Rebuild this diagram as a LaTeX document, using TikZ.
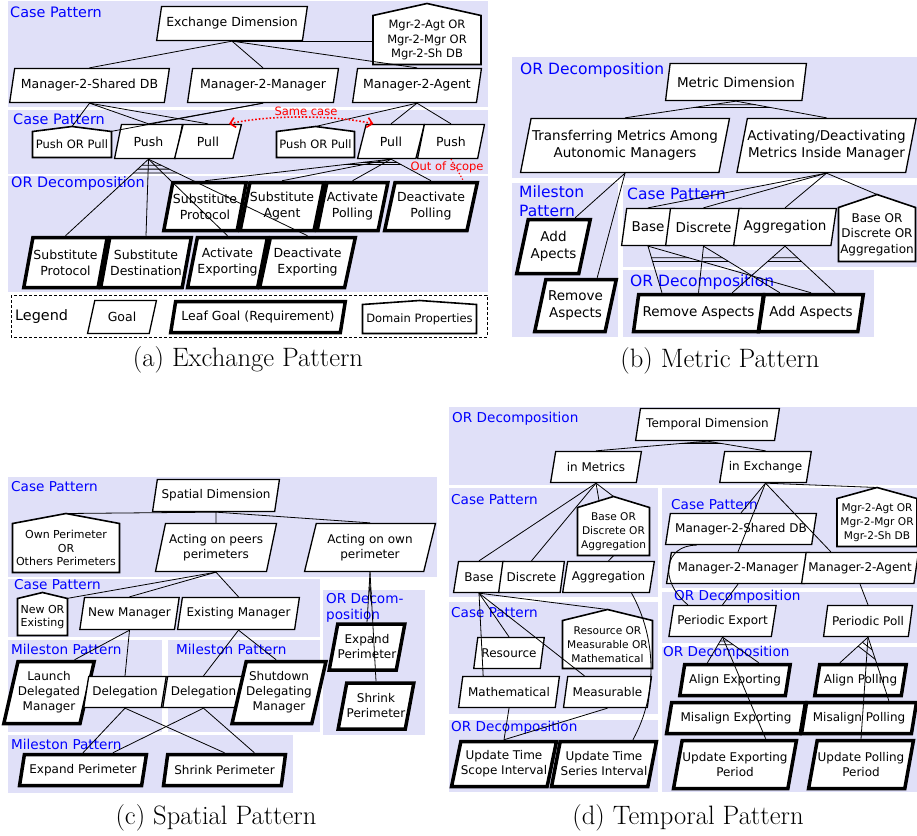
\documentclass[tikz,border=0pt]{standalone}
\usepackage{fontspec}
\newfontfamily\dejavu{DejaVu Sans}
\usepackage{tikz}
\usetikzlibrary{shapes.geometric}
\usetikzlibrary{arrows.meta}
\usetikzlibrary{calc}

\definecolor{lav}{RGB}{224,224,248}

\tikzset{
  gfont/.style={font=\dejavu\fontsize{12.5}{16}\selectfont},
  dfont/.style={font=\dejavu\fontsize{11.5}{14.5}\selectfont},
  pfont/.style={font=\dejavu\fontsize{14.4}{19}\selectfont},
  goal/.style={trapezium, trapezium left angle=72, trapezium right angle=108,
    trapezium stretches=true, draw, fill=white, line width=1.3pt,
    inner xsep=0pt, inner ysep=1pt, align=center, gfont},
  leaf/.style={goal, line width=3.5pt},
  domline/.style={fill=white, draw, line width=1.6pt},
  domtext/.style={inner sep=0pt, align=center, dfont},
  panel/.style={fill=lav},
  pat/.style={anchor=west, inner sep=0pt, text=blue, align=left, pfont},
  link/.style={line width=0.8pt},
  caption/.style={font=\fontsize{26.6}{31}\selectfont},
  note/.style={text=red, font=\dejavu\fontsize{11.5}{14}\selectfont},
  samecase/.style={{Straight Barb[length=5pt,width=10pt]}-{Straight Barb[length=5pt,width=10pt]},
    red, dotted, line width=1.6pt},
}

% name, x, y, width, height, roof, text
\newcommand{\domprop}[7]{%
  \filldraw[domline] (#2-#4/2,#3+#5/2) -- (#2+#4/2,#3+#5/2) -- (#2+#4/2,#3-#5/2+#6)
    -- (#2,#3-#5/2) -- (#2-#4/2,#3-#5/2+#6) -- cycle;
  \coordinate (#1-apex) at (#2,#3-#5/2);
  \node[domtext, minimum width=#4, minimum height=#5-#6] (#1) at (#2,#3+#6/2) {#7};}

\begin{document}
\begin{tikzpicture}[x=1pt, y=-1pt]
  \useasboundingbox (0,0) rectangle (917,835);

  % (a) exchange pattern
  \begin{scope}
  \fill[panel] (8,1) rectangle (488,107);
  \fill[panel] (8,110) rectangle (488,174);
  \fill[panel] (8,176) rectangle (488,292);
  \draw[densely dashed, line width=0.6pt] (11,295) rectangle (487,337);

  \node[pat] (la1) at (10,12) {Case Pattern};
  \node[pat] (la2) at (13,119) {Case Pattern};
  \node[pat] (la3) at (11,184) {OR Decomposition};

  \node[goal, minimum width=151, minimum height=34] (ed) at (232,23.5) {Exchange Dimension};
  \domprop{dpA}{427}{34}{108}{61}{12}{Mgr-2-Agt OR\\Mgr-2-Mgr OR\\Mgr-2-Sh DB}
  \node[goal, minimum width=160, minimum height=34] (msdb) at (89.5,85.5) {Manager-2-Shared DB};
  \node[goal, minimum width=151, minimum height=34] (mm) at (263,85.5) {Manager-2-Manager};
  \node[goal, minimum width=129, minimum height=34] (ma) at (417,85.5) {Manager-2-Agent};

  \domprop{popA}{72}{142}{79}{31}{5}{Push OR Pull}
  \node[goal, minimum width=68, minimum height=34] (pushA) at (148.5,141.5) {Push};
  \node[goal, minimum width=67, minimum height=34] (pullA) at (208,141.5) {Pull};
  \domprop{popB}{315.5}{142}{78}{31}{5}{Push OR Pull}
  \node[goal, minimum width=67, minimum height=34] (pullB) at (391,141.5) {Pull};
  \node[goal, minimum width=67, minimum height=34] (pushB) at (451,141.5) {Push};

  \node[leaf, minimum width=83, minimum height=48] (sp1) at (205,206.5) {Substitute\\Protocol};
  \node[leaf, minimum width=83, minimum height=48] (sa) at (282,206.5) {Substitute\\Agent};
  \node[leaf, minimum width=68, minimum height=48] (apo) at (352.5,206.5) {Activate\\Polling};
  \node[leaf, minimum width=93, minimum height=48] (dpo) at (431,206.5) {Deactivate\\Polling};

  \node[leaf, minimum width=84, minimum height=50] (sp2) at (65.5,262.5) {Substitute\\Protocol};
  \node[leaf, minimum width=91, minimum height=50] (sd) at (146,262.5) {Substitute\\Destination};
  \node[leaf, minimum width=78, minimum height=50] (aex) at (227.5,262.5) {Activate\\Exporting};
  \node[leaf, minimum width=96, minimum height=50] (dex) at (307.5,262.5) {Deactivate\\Exporting};

  \node[pfont, anchor=west, inner sep=0pt] (lgd) at (15,317) {Legend};
  \node[goal, minimum width=69, minimum height=33] (lgoal) at (122,317) {Goal};
  \node[leaf, minimum width=175, minimum height=31] (lleaf) at (258,317) {Leaf Goal (Requirement)};
  \domprop{ldp}{419.5}{317}{114}{33}{4}{Domain Properties}

  \foreach \c in {msdb,mm,ma}
    \draw[link] (ed.south) -- (\c.north);
  \draw[link] (ed.south) -- (ed.south -| dpA.west);
  \foreach \c in {popA-apex,pushA.north,pullA.north}
    \draw[link] (msdb.south) -- (\c);
  \draw[link] (mm.south) -- (popA.north east);
  \draw[link] (mm.south) -- (pushA.north);
  \foreach \c in {popB-apex,pullB.north,pushB.north}
    \draw[link] (ma.south) -- (\c);
  \foreach \c in {sp2,sd,aex,dex}
    \draw[link] (pushA.south) -- (\c.north);
  \foreach \f in {0.08,0.13,0.18}
    \draw[link] ($(pushA.south)!\f!(sp2.north)$) -- ($(pushA.south)!\f!(dex.north)$);
  \foreach \c in {sp1,sa,apo,dpo}
    \draw[link] (pullB.south) -- (\c.north);
  \foreach \f in {0.15,0.25}
    \draw[link] ($(pullB.south)!\f!(sp1.north)$) -- ($(pullB.south)!\f!(dpo.north)$);

  \draw[samecase] (pullB.135) .. controls +(-40,-9) and +(40,-9) .. (pullA.40);
  \node[note] (same) at (306,111) {Same case};
  \coordinate (oosend) at (463,180);
  \draw[red, dotted, line width=1.2pt] (pushB.south) -- (oosend);
  \node[note] (oos) at (447,167) {Out of scope};

  \node[caption] (capA) at (248,360) {(a) Exchange Pattern};
  \end{scope}

  % (b) metric pattern
  \begin{scope}[gfont/.style={font=\dejavu\fontsize{13.5}{17}\selectfont},
    dfont/.style={font=\dejavu\fontsize{12}{15.5}\selectfont},
    pfont/.style={font=\dejavu\fontsize{15.5}{19}\selectfont}]
  \fill[panel] (512,57) rectangle (917,178);
  \fill[panel] (512,183) rectangle (618,337);
  \fill[panel] (623,185) rectangle (917,267);
  \fill[panel] (623,270) rectangle (874,337);

  \node[pat] (lb1) at (520,70) {OR Decomposition};
  \node[pat] (lb2) at (519,201.5) {Mileston\\Pattern};
  \node[pat] (lb3) at (627,194) {Case Pattern};
  \node[pat] (lb4) at (630,282) {OR Decomposition};

  \node[goal, minimum width=141, minimum height=37] (md) at (736,82) {Metric Dimension};
  \node[goal, minimum width=209, minimum height=54] (tm) at (625,145.5) {Transferring Metrics Among\\Autonomic Managers};
  \node[goal, minimum width=172, minimum height=54] (ad) at (826.5,145.5) {Activating/Deactivating\\Metrics Inside Manager};
  \node[leaf, minimum width=74, minimum height=54] (addap) at (553.5,246.5) {Add\\Apects};
  \node[leaf, minimum width=82, minimum height=52] (remap1) at (575.5,305.5) {Remove\\Aspects};
  \node[goal, minimum width=53, minimum height=37] (base1) at (648,227) {Base};
  \node[goal, minimum width=76, minimum height=37] (disc1) at (703.5,227) {Discrete};
  \node[goal, minimum width=103, minimum height=37] (aggr1) at (785,227) {Aggregation};
  \domprop{dpB}{877}{228}{77}{67}{13}{Base OR\\Discrete OR\\Aggregation}
  \node[leaf, minimum width=130, minimum height=37] (remap2) at (698.5,313) {Remove Aspects};
  \node[leaf, minimum width=105, minimum height=37] (addas) at (811,313) {Add Aspects};

  \draw[link] (md.south) -- (tm.north);
  \draw[link] (md.south) -- (ad.north);
  \foreach \f in {0.22,0.38}
    \draw[link] ($(md.south)!\f!(tm.north)$) -- ($(md.south)!\f!(ad.north)$);
  \draw[link] (tm.south) -- (addap.53);
  \draw[link] (tm.south) -- (remap1.52);
  \foreach \c in {base1.north,disc1.north,aggr1.north,dpB-apex}
    \draw[link] (ad.south) -- (\c);
  \foreach \p/\l/\r in {base1/remap2.151/addas.north,disc1/remap2.north/addas.147,aggr1/remap2.31/addas.40} {
    \draw[link] (\p.south) -- (\l);
    \draw[link] (\p.south) -- (\r);
    \foreach \f in {0.25,0.33}
      \draw[link] ($(\p.south)!\f!(\l)$) -- ($(\p.south)!\f!(\r)$);
  }

  \node[caption] (capB) at (720,361) {(b) Metric Pattern};
  \end{scope}

  % (c) spatial pattern
  \begin{scope}[gfont/.style={font=\dejavu\fontsize{12}{15}\selectfont},
    dfont/.style={font=\dejavu\fontsize{11}{13.7}\selectfont},
    pfont/.style={font=\dejavu\fontsize{13.6}{16}\selectfont}]
  \fill[panel] (8,477) rectangle (437,577);
  \fill[panel] (8,579) rectangle (320,637);
  \fill[panel] (323,590) rectangle (425,735);
  \fill[panel] (8,640) rectangle (162,732);
  \fill[panel] (168,640) rectangle (320,732);
  \fill[panel] (8,735) rectangle (293,793);

  \node[pat] (lc1) at (11,487) {Case Pattern};
  \node[pat] (lc2) at (14,585) {Case Pattern};
  \node[pat] (lc3) at (11,649) {Mileston Pattern};
  \node[pat] (lc4) at (176,649) {Mileston Pattern};
  \node[pat] (lc5) at (11,744) {Mileston Pattern};
  \node[pat] (lc6) at (326,608) {OR Decom-\\position};

  \node[goal, minimum width=127, minimum height=32] (spd) at (216,495.5) {Spatial Dimension};
  \domprop{dpC1}{66}{543}{107}{59}{10}{Own Perimeter\\OR\\Others Perimeters}
  \node[goal, minimum width=121, minimum height=48] (aop) at (216,547.5) {Acting on peers\\perimeters};
  \node[goal, minimum width=131, minimum height=48] (aoo) at (370,547.5) {Acting on own\\perimeter};
  \domprop{dpC2}{42.5}{614}{50}{43}{6}{New OR\\Existing}
  \node[goal, minimum width=100, minimum height=32] (nm) at (129.5,613.5) {New Manager};
  \node[goal, minimum width=122, minimum height=32] (em) at (238.5,613.5) {Existing Manager};
  \node[leaf, minimum width=79, minimum height=62] (ldm) at (49,692.5) {Launch\\Delegated\\Manager};
  \node[goal, minimum width=83, minimum height=31] (del1) at (125,692) {Delegation};
  \node[goal, minimum width=82, minimum height=31] (del2) at (203.5,692) {Delegation};
  \node[leaf, minimum width=83, minimum height=62] (sdm) at (279,692.5) {Shutdown\\Delegating\\Manager};
  \node[leaf, minimum width=127, minimum height=31] (exp1) at (83,770) {Expand Perimeter};
  \node[leaf, minimum width=122, minimum height=31] (shr1) at (224.5,770) {Shrink Perimeter};
  \node[leaf, minimum width=63, minimum height=46] (exp2) at (367,647) {Expand\\Perimeter};
  \node[leaf, minimum width=65, minimum height=46] (shr2) at (376,706) {Shrink\\Perimeter};

  \foreach \c in {dpC1-apex,aop.north,aoo.north}
    \draw[link] (spd.south) -- (\c);
  \foreach \c in {dpC2.north east,nm.north,em.north}
    \draw[link] (aop.south) -- (\c);
  \draw[link] (aoo.south) -- (exp2.north);
  \draw[link] (aoo.south) -- (shr2.north);
  \foreach \f in {0.2,0.3}
    \draw[link] ($(aoo.south)!\f!(exp2.north)$) -- ($(aoo.south)!\f!(shr2.north)$);
  \draw[link] (nm.south) -- (ldm.52);
  \draw[link] (nm.south) -- (del1.north);
  \draw[link] (em.south) -- (del2.north);
  \draw[link] (em.south) -- (sdm.95);
  \draw[link] (del1.south) -- (exp1.north);
  \draw[link] (del1.south) -- (shr1.north);
  \draw[link] (del2.south) -- (exp1.30);
  \draw[link] (del2.south) -- (shr1.30);

  \node[caption] (capC) at (216,818) {(c) Spatial Pattern};
  \end{scope}

  % (d) temporal pattern
  \begin{scope}[gfont/.style={font=\dejavu\fontsize{12}{15}\selectfont},
    dfont/.style={font=\dejavu\fontsize{10.6}{14}\selectfont},
    pfont/.style={font=\dejavu\fontsize{13.6}{15}\selectfont}]
  \fill[panel] (449,407) rectangle (917,485);
  \fill[panel] (449,488) rectangle (658,597);
  \fill[panel] (449,602) rectangle (658,714);
  \fill[panel] (449,720) rectangle (658,792);
  \fill[panel] (662,488) rectangle (917,588);
  \fill[panel] (662,592) rectangle (917,643);
  \fill[panel] (662,647) rectangle (917,792);

  \node[pat] (ld1) at (452,419) {OR Decomposition};
  \node[pat] (ld2) at (451,500) {Case Pattern};
  \node[pat] (ld3) at (671,505) {Case Pattern};
  \node[pat] (ld4) at (451,613) {Case Pattern};
  \node[pat] (ld5) at (451,728) {OR Decomposition};
  \node[pat] (ld6) at (674,597) {OR Decomposition};
  \node[pat] (ld7) at (663,653) {OR Decomposition};

  \node[goal, minimum width=144, minimum height=32] (td) at (707.5,424.5) {Temporal Dimension};
  \node[goal, minimum width=91, minimum height=31] (im) at (596,467) {in Metrics};
  \node[goal, minimum width=92, minimum height=31] (ie) at (765.5,467) {in Exchange};

  \domprop{dpD1}{613.5}{526}{72}{59}{11}{Base OR\\Discrete OR\\Aggregation}
  \node[goal, minimum width=51, minimum height=31] (base2) at (479,577) {Base};
  \node[goal, minimum width=66, minimum height=31] (disc2) at (531.5,577) {Discrete};
  \node[goal, minimum width=92, minimum height=31] (aggr2) at (608.5,577) {Aggregation};
  \node[goal, minimum width=71, minimum height=31] (res) at (509,653) {Resource};
  \domprop{dpD2}{607.5}{639}{90}{59}{11}{Resource OR\\Measurable OR\\Mathematical}
  \node[goal, minimum width=101, minimum height=31] (math) at (509,692) {Mathematical};
  \node[goal, minimum width=88, minimum height=31] (meas) at (607.5,692) {Measurable};
  \node[leaf, minimum width=105, minimum height=45] (utsc) at (504,764) {Update Time\\Scope Interval};
  \node[leaf, minimum width=105, minimum height=45] (utse) at (604,764) {Update Time\\Series Interval};

  \domprop{dpD3}{877}{517}{80}{59}{11}{Mgr-2-Agt OR\\Mgr-2-Mgr OR\\Mgr-2-Sh DB}
  \node[goal, minimum width=151, minimum height=31] (msdb2) at (741,529) {Manager-2-Shared DB};
  \node[goal, minimum width=143, minimum height=31] (mm2) at (738,568) {Manager-2-Manager};
  \node[goal, minimum width=117, minimum height=31] (ma2) at (860,568) {Manager-2-Agent};
  \node[goal, minimum width=108, minimum height=31] (pe) at (722.5,621) {Periodic Export};
  \node[goal, minimum width=89, minimum height=31] (pp) at (868,621) {Periodic Poll};
  \node[leaf, minimum width=111, minimum height=31] (ae) at (735,680) {Align Exporting};
  \node[leaf, minimum width=92, minimum height=31] (ap) at (860.5,680) {Align Polling};
  \node[leaf, minimum width=139, minimum height=31] (me) at (736,718) {Misalign Exporting};
  \node[leaf, minimum width=115, minimum height=31] (mp) at (859,718) {Misalign Polling};
  \node[leaf, minimum width=123, minimum height=48] (uep) at (735,764.5) {Update Exporting\\Period};
  \node[leaf, minimum width=105, minimum height=48] (upp) at (861,764.5) {Update Polling\\Period};

  \draw[link] (td.south) -- (im.north);
  \draw[link] (td.south) -- (ie.north);
  \foreach \f in {0.12,0.25}
    \draw[link] ($(td.south)!\f!(im.north)$) -- ($(td.south)!\f!(ie.north)$);
  \foreach \c in {base2.north,disc2.north,dpD1-apex}
    \draw[link] (im.south) -- (\c);
  \draw[link] (im.south) -- ($(dpD1-apex)!0.4!(dpD1.north west)$);
  \draw[link] (dpD1.south) -- (aggr2.north);
  \foreach \c in {math.148,res.north,meas.145,dpD2-apex}
    \draw[link] (base2.south) -- (\c);
  \draw[link] (math.south) -- (utsc.north);
  \draw[link] (meas.south) -- (utsc.north);
  \draw[link] (aggr2.-35) .. controls +(25,45) and +(25,-45) .. (utse.40);

  \foreach \c in {msdb2.north,mm2.north,ma2.151,dpD3-apex}
    \draw[link] (ie.south) -- (\c);
  \draw[link] (msdb2.200) .. controls +(-32,0) and +(-30,-25) .. (pe.155);
  \draw[link] (mm2.south) -- (pe.north);
  \draw[link] (ma2.south) -- (pp.north);
  \foreach \c in {ae.148,ae.36,uep.40}
    \draw[link] (pe.south) -- (\c);
  \foreach \f in {0.15,0.3}
    \draw[link] ($(pe.south)!\f!(ae.148)$) -- ($(pe.south)!\f!(ae.36)$);
  \foreach \c in {ap.140,mp.30,upp.north}
    \draw[link] (pp.south) -- (\c);
  \foreach \f in {0.2,0.35}
    \draw[link] ($(pp.south)!\f!(ap.140)$) -- ($(pp.south)!\f!(mp.30)$);

  \node[caption] (capD) at (688,818) {(d) Temporal Pattern};
  \end{scope}
\end{tikzpicture}
\end{document}
